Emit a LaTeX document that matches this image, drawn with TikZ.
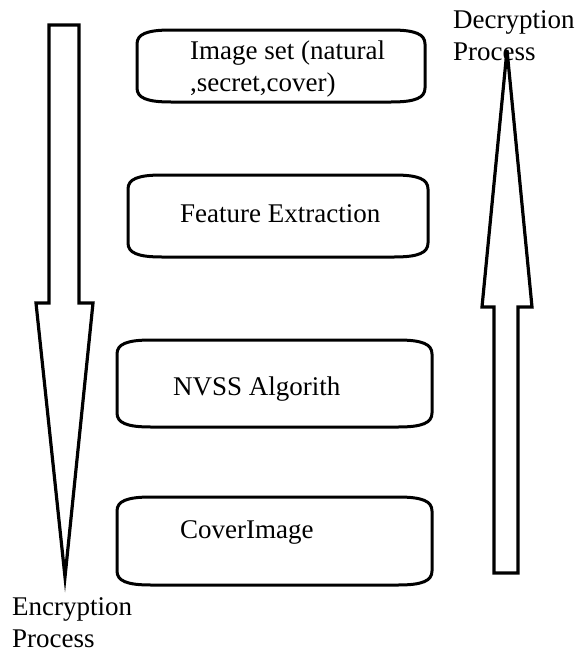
\documentclass[tikz,border=0pt]{standalone}
\usepackage{fontspec}
\setmainfont{Liberation Serif}
\newcommand\capbox[4]{%
  \draw[boxline] (#1,#2+14) .. controls (#1,#2+4) and (#1+10,#2) .. (#1+34,#2)
    -- (#3-34,#2) .. controls (#3-10,#2) and (#3,#2+4) .. (#3,#2+14)
    -- (#3,#4-14) .. controls (#3,#4-4) and (#3-10,#4) .. (#3-34,#4)
    -- (#1+34,#4) .. controls (#1+10,#4) and (#1,#4-4) .. (#1,#4-14) -- cycle;}
\begin{document}
\begin{tikzpicture}[x=1pt,y=-1pt,
  boxline/.style={line width=3pt,line join=round},
  arrowline/.style={line width=3.2pt,line join=miter},
  lbl/.style={anchor=base west,inner sep=0pt,font=\fontsize{27}{32}\selectfont}]
\useasboundingbox (0,0) rectangle (576,653);
% boxes
\capbox{137}{30}{425}{102}
\capbox{128}{175}{428}{257}
\capbox{117}{340}{432}{427}
\capbox{117}{497}{432}{585}
% encryption arrow (down)
\draw[arrowline] (49,25) -- (79,25) -- (79,303) -- (93,303) -- (65,577) -- (36,303) -- (49,303) -- cycle;
% decryption arrow (up)
\draw[arrowline] (494,573) -- (518,573) -- (518,307) -- (532,307) -- (507,50) -- (482,307) -- (494,307) -- cycle;
% texts
\node[lbl] (t1a) at (190,59) {Image set (natural};
\node[lbl] (t1b) at (190,91) {,secret,cover)};
\node[lbl] (t2) at (180,222) {Feature Extraction};
\node[lbl] (t3) at (173,395) {NVSS Algorith};
\node[lbl] (t4) at (180,538) {CoverImage};
\node[lbl] (d1) at (453,28) {Decryption};
\node[lbl] (d2) at (453,60) {Process};
\node[lbl] (e1) at (12,615) {Encryption};
\node[lbl] (e2) at (12,647) {Process};
\end{tikzpicture}
\end{document}
